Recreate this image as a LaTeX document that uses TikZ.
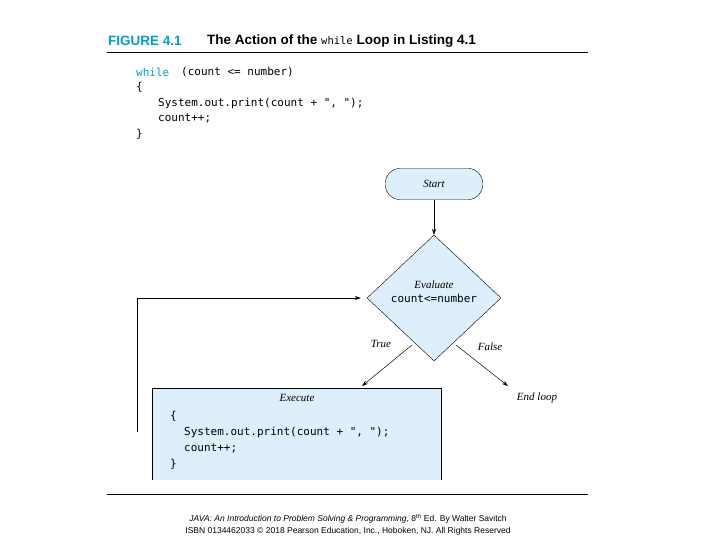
\documentclass[tikz,border=0pt]{standalone}
\usepackage{fontspec}
\setmainfont{Liberation Serif}
\setsansfont{Liberation Sans}
\setmonofont{DejaVu Sans Mono}
\usetikzlibrary{shapes.geometric,arrows.meta}
\definecolor{figCyan}{RGB}{0,158,205}
\definecolor{boxFill}{RGB}{221,239,251}
\tikzset{
  flow/.style={draw=black,line width=0.5pt,-{Stealth[length=6pt,width=4pt]}},
  lbl/.style={font=\fontsize{11}{12}\selectfont\itshape,inner sep=0pt},
  code/.style={font=\ttfamily\fontsize{11}{12}\selectfont,anchor=west,inner sep=0pt},
  rule/.style={draw=black,line width=0.6pt}
}
\begin{document}
\begin{tikzpicture}[x=1pt,y=-1pt]
\path[use as bounding box,fill=white] (0,0) rectangle (720,540);

% title
\node[anchor=west,inner sep=0pt,text=figCyan,font=\sffamily\bfseries\fontsize{13.5}{14}\selectfont] (fig) at (108,41) {FIGURE 4.1};
\node[anchor=west,inner sep=0pt,font=\sffamily\bfseries\fontsize{13.5}{14}\selectfont] (ttl) at (207,41) {The Action of the {\mdseries\ttfamily\fontsize{10.5}{11}\selectfont while} Loop in Listing 4.1};
\draw[rule] (107,52) -- (588,52);

% listing
\node[code,text=figCyan] (w) at (136,72) {while};
\node[code] (w2) at (181,72) {(count <= number)};
\node[code] (l2) at (136,87) {\{};
\node[code] (l3) at (158,103) {System.out.print(count + ", ");};
\node[code] (l4) at (158,118) {count++;};
\node[code] (l5) at (136,134) {\}};

% flowchart
\node[draw,fill=boxFill,rounded corners=14pt,minimum width=97pt,minimum height=31pt,lbl] (start) at (434,184) {Start};
\node[draw,fill=boxFill,diamond,minimum width=134pt,minimum height=126pt,inner sep=0pt,line width=0.4pt] (eval) at (434,298) {};
\node[lbl] (evt) at (434,285) {Evaluate};
\node[code,anchor=center] (evc) at (434,298) {count<=number};
\draw[flow] (start) -- (eval.north);

\fill[boxFill] (152,388) rectangle (441,480);
\draw[line width=0.5pt] (152,480) -- (152,388) -- (441,388) -- (441,480);
\coordinate (exec) at (362,386);
\node[lbl] (ext) at (297,398) {Execute};
\node[code] (e1) at (170,416) {\{};
\node[code] (e2) at (184,432) {System.out.print(count + ", ");};
\node[code] (e3) at (184,448) {count++;};
\node[code] (e4) at (170,464) {\}};

\node[lbl] (end) at (537,398) {End loop};
\coordinate (fend) at (508,386);
\coordinate (tstart) at (412,345);
\coordinate (fstart) at (456,345);
\draw[flow] (tstart) -- (exec);
\draw[flow] (fstart) -- (fend);
\node[lbl] (tl) at (381,344) {True};
\node[lbl] (fl) at (490,347) {False};

\coordinate (back) at (137,432);
\draw[flow] (back) |- ([xshift=-6pt]eval.west);

% footer
\draw[rule] (107,494) -- (588,494);
\node[inner sep=0pt,font=\sffamily\fontsize{8.5}{10}\selectfont] (f1) at (348,519) {\textit{JAVA: An Introduction to Problem Solving \& Programming}, 8\textsuperscript{th} Ed. By Walter Savitch};
\node[inner sep=0pt,font=\sffamily\fontsize{8.5}{10}\selectfont] (f2) at (348,531) {ISBN 0134462033 © 2018 Pearson Education, Inc., Hoboken, NJ. All Rights Reserved};
\end{tikzpicture}
\end{document}
